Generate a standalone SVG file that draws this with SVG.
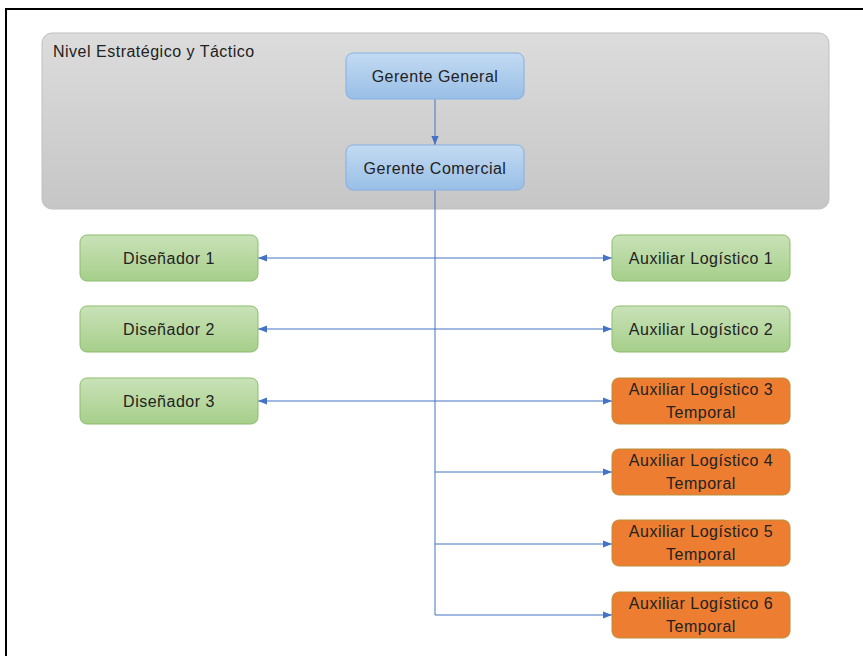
<svg xmlns="http://www.w3.org/2000/svg" width="863" height="656" viewBox="0 0 863 656">
<defs>
<linearGradient id="gGray" x1="0" y1="0" x2="0" y2="1"><stop offset="0" stop-color="#dcdcdc"/><stop offset="1" stop-color="#c6c6c6"/></linearGradient>
<linearGradient id="gBlue" x1="0" y1="0" x2="0" y2="1"><stop offset="0" stop-color="#c3daf2"/><stop offset="1" stop-color="#98bfe6"/></linearGradient>
<linearGradient id="gGreen" x1="0" y1="0" x2="0" y2="1"><stop offset="0" stop-color="#c9e2b8"/><stop offset="1" stop-color="#a6cf8a"/></linearGradient>
<marker id="arr" viewBox="0 0 10 10" refX="10" refY="5" markerWidth="9" markerHeight="9" markerUnits="userSpaceOnUse" orient="auto-start-reverse"><path d="M0,1 L10,5 L0,9 z" fill="#4472c4"/></marker>
<style>
.lbl{font-family:"Liberation Sans",Arial,sans-serif;font-size:16px;letter-spacing:0.5px;fill:#222222;text-anchor:middle}
.blue{fill:url(#gBlue);stroke:#86aee0;stroke-width:1}
.green{fill:url(#gGreen);stroke:#8bbd6c;stroke-width:1}
.orange{fill:#ed7d31;stroke:#b8903a;stroke-width:1}
.con{stroke:#4472c4;stroke-width:1;fill:none}
</style>
</defs>
<rect width="863" height="656" fill="#ffffff"/>
<path d="M6,656 V9 H863" fill="none" stroke="#000000" stroke-width="2"/>
<g id="nivel">
<rect x="42" y="33" width="787" height="176" rx="10" fill="url(#gGray)" stroke="#c0c0c0"/>
<text x="53" y="57" style="font-family:'Liberation Sans',Arial,sans-serif;font-size:16px;letter-spacing:0.5px;fill:#222">Nivel Estratégico y Táctico</text>
</g>
<g id="connectors">
<line class="con" x1="435" y1="99" x2="435" y2="145" marker-end="url(#arr)"/>
<line class="con" x1="435" y1="190" x2="435" y2="615"/>
<line class="con" x1="258" y1="258" x2="612" y2="258" marker-start="url(#arr)" marker-end="url(#arr)"/>
<line class="con" x1="258" y1="329" x2="612" y2="329" marker-start="url(#arr)" marker-end="url(#arr)"/>
<line class="con" x1="258" y1="401" x2="612" y2="401" marker-start="url(#arr)" marker-end="url(#arr)"/>
<line class="con" x1="435" y1="472" x2="612" y2="472" marker-end="url(#arr)"/>
<line class="con" x1="435" y1="544" x2="612" y2="544" marker-end="url(#arr)"/>
<line class="con" x1="435" y1="615" x2="612" y2="615" marker-end="url(#arr)"/>
</g>
<g id="gerente-general"><rect class="blue" x="346" y="53" width="178" height="46" rx="7"/><text class="lbl" x="435" y="82">Gerente General</text></g>
<g id="gerente-comercial"><rect class="blue" x="346" y="145" width="178" height="45" rx="7"/><text class="lbl" x="435" y="174">Gerente Comercial</text></g>
<g id="disenador-1"><rect class="green" x="80" y="235" width="178" height="46" rx="7"/><text class="lbl" x="169" y="264">Diseñador 1</text></g>
<g id="disenador-2"><rect class="green" x="80" y="306" width="178" height="46" rx="7"/><text class="lbl" x="169" y="335">Diseñador 2</text></g>
<g id="disenador-3"><rect class="green" x="80" y="378" width="178" height="46" rx="7"/><text class="lbl" x="169" y="407">Diseñador 3</text></g>
<g id="aux-1"><rect class="green" x="612" y="235" width="178" height="46" rx="7"/><text class="lbl" x="701" y="264">Auxiliar Logístico 1</text></g>
<g id="aux-2"><rect class="green" x="612" y="306" width="178" height="46" rx="7"/><text class="lbl" x="701" y="335">Auxiliar Logístico 2</text></g>
<g id="aux-3"><rect class="orange" x="612" y="378" width="178" height="46" rx="7"/><text class="lbl" x="701" y="395">Auxiliar Logístico 3</text><text class="lbl" x="701" y="418">Temporal</text></g>
<g id="aux-4"><rect class="orange" x="612" y="449" width="178" height="46" rx="7"/><text class="lbl" x="701" y="466">Auxiliar Logístico 4</text><text class="lbl" x="701" y="489">Temporal</text></g>
<g id="aux-5"><rect class="orange" x="612" y="520" width="178" height="46" rx="7"/><text class="lbl" x="701" y="537">Auxiliar Logístico 5</text><text class="lbl" x="701" y="560">Temporal</text></g>
<g id="aux-6"><rect class="orange" x="612" y="592" width="178" height="46" rx="7"/><text class="lbl" x="701" y="609">Auxiliar Logístico 6</text><text class="lbl" x="701" y="632">Temporal</text></g>
</svg>
